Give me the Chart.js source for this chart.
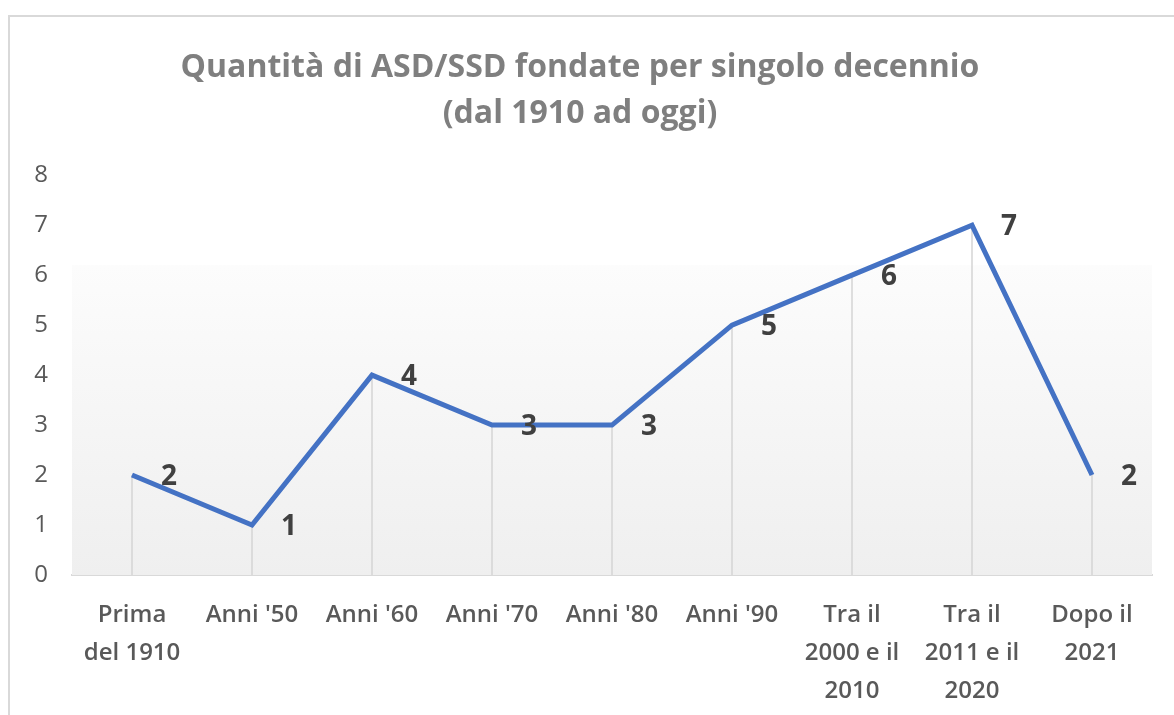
<!DOCTYPE html>
<html>
<head>
<meta charset="utf-8">
<script src="https://cdn.jsdelivr.net/npm/chart.js@4"></script>
<style>
    html, body { margin: 0; padding: 0; background: #fff; }
    .frame {
        position: absolute;
        left: 8px; top: 15px;
        width: 1180px; height: 720px;
        border: 2px solid #d9d9d9;
        box-sizing: border-box;
    }
    #wrap { position: absolute; left: 0; top: 0; width: 1174px; height: 715px; }
</style>
</head>
<body>
<div class="frame"></div>
<div id="wrap"><canvas id="decadeChart"></canvas></div>
<script>
// Quantità di ASD/SSD per decennio - Line Chart

const categories = [
    ['Prima', 'del 1910'],
    ["Anni '50"],
    ["Anni '60"],
    ["Anni '70"],
    ["Anni '80"],
    ["Anni '90"],
    ['Tra il', '2000 e il', '2010'],
    ['Tra il', '2011 e il', '2020'],
    ['Dopo il', '2021']
];
const counts = [2, 1, 4, 3, 3, 5, 6, 7, 2];
const yTicks = [0, 1, 2, 3, 4, 5, 6, 7, 8];
const titleLines = ['Quantità di ASD/SSD fondate per singolo decennio', '(dal 1910 ad oggi)'];

// faded plot background + drop lines
const backdrop = {
    id: 'backdrop',
    beforeDatasetsDraw(chart) {
        const { ctx, chartArea, scales } = chart;
        const top = scales.y.getPixelForValue(6.2);
        const g = ctx.createLinearGradient(0, top, 0, chartArea.bottom);
        g.addColorStop(0, '#fcfcfc');
        g.addColorStop(1, '#efefef');
        ctx.save();
        ctx.fillStyle = g;
        ctx.fillRect(chartArea.left, top, chartArea.right - chartArea.left, chartArea.bottom - top);
        ctx.strokeStyle = '#d4d4d4';
        ctx.lineWidth = 1.5;
        chart.getDatasetMeta(0).data.forEach(pt => {
            ctx.beginPath();
            ctx.moveTo(pt.x, pt.y);
            ctx.lineTo(pt.x, chartArea.bottom);
            ctx.stroke();
        });
        ctx.restore();
    }
};

// value labels right of each point
const valueLabels = {
    id: 'valueLabels',
    afterDatasetsDraw(chart) {
        const { ctx } = chart;
        const ds = chart.data.datasets[0];
        ctx.save();
        ctx.font = 'bold 28px "Open Sans"';
        ctx.fillStyle = '#404040';
        ctx.textAlign = 'center';
        ctx.textBaseline = 'middle';
        chart.getDatasetMeta(0).data.forEach((pt, i) => {
            ctx.fillText(String(ds.data[i]), pt.x + 37, pt.y + 2);
        });
        ctx.restore();
    }
};

const ctxEl = document.getElementById('decadeChart');
new Chart(ctxEl, {
    type: 'line',
    data: {
        labels: categories,
        datasets: [{
            data: counts,
            borderColor: '#4472c4',
            borderWidth: 5,
            pointRadius: 0,
            tension: 0,
            fill: false
        }]
    },
    options: {
        responsive: true,
        maintainAspectRatio: false,
        animation: false,
        layout: {
            padding: { left: 8, right: 22, top: 0, bottom: 0 }
        },
        plugins: {
            legend: { display: false },
            tooltip: { enabled: false },
            title: {
                display: true,
                text: titleLines,
                color: '#7f7f7f',
                font: { family: 'Open Sans', size: 32, weight: 'bold', lineHeight: 1.44 },
                padding: { top: 45, bottom: 38 }
            }
        },
        scales: {
            y: {
                min: 0,
                max: 8,
                afterBuildTicks(scale) {
                    scale.ticks = yTicks.map(v => ({ value: v }));
                },
                afterFit(scale) { scale.width = 64; },
                grid: { display: false },
                border: { display: false },
                ticks: {
                    padding: 16,
                    color: '#595959',
                    font: { family: 'Open Sans', size: 24 }
                }
            },
            x: {
                offset: true,
                afterFit(scale) { scale.height = 140; },
                grid: { display: false },
                border: { color: '#d9d9d9', width: 2 },
                ticks: {
                    maxRotation: 0,
                    autoSkip: false,
                    padding: 13,
                    color: '#595959',
                    font: { family: 'Open Sans', size: 24, weight: '600', lineHeight: 1.58 }
                }
            }
        }
    },
    plugins: [backdrop, valueLabels]
});
</script>
</body>
</html>
